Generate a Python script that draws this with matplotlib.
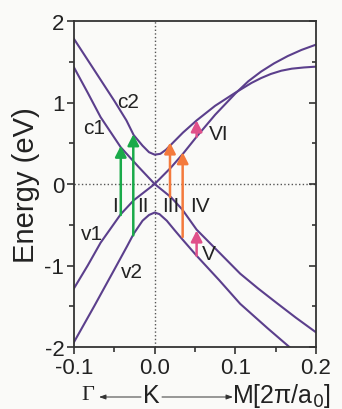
import matplotlib
matplotlib.use('Agg')
import matplotlib.pyplot as plt

plt.rcParams['font.family'] = ['Liberation Sans', 'DejaVu Sans']

# band data (k in 2pi/a0, E in eV)
k_c2 = [-0.100, -0.075, -0.050, -0.035, -0.026, -0.015, -0.007, 0.000, 0.007, 0.014,
        0.021, 0.035, 0.052, 0.075, 0.100, 0.110, 0.120, 0.132, 0.144, 0.157,
        0.170, 0.185, 0.200]
e_c2 = [1.78, 1.40, 1.02, 0.78, 0.60, 0.47, 0.39, 0.36, 0.37, 0.42,
        0.49, 0.63, 0.78, 0.96, 1.12, 1.18, 1.24, 1.30, 1.35, 1.39,
        1.415, 1.43, 1.44]

k_c1 = [-0.100, -0.083, -0.067, -0.042, -0.020, 0.000, 0.020, 0.035, 0.052,
        0.075, 0.100, 0.116, 0.132, 0.148, 0.165, 0.182, 0.200]
e_c1 = [1.43, 1.12, 0.82, 0.45, 0.21, 0.00, 0.20, 0.37, 0.58,
        0.85, 1.11, 1.26, 1.38, 1.48, 1.57, 1.645, 1.71]

k_v1 = [-0.100, -0.083, -0.067, -0.042, -0.026, -0.013, 0.000, 0.020, 0.034,
        0.052, 0.080, 0.106, 0.128, 0.150, 0.175, 0.200]
e_v1 = [-1.28, -1.00, -0.72, -0.37, -0.20, -0.10, 0.00, -0.16, -0.31,
        -0.56, -0.84, -1.10, -1.28, -1.45, -1.64, -1.82]

k_v2 = [-0.100, -0.075, -0.050, -0.034, -0.026, -0.015, -0.007, 0.000, 0.006,
        0.015, 0.025, 0.034, 0.052, 0.080, 0.106, 0.140, 0.167]
e_v2 = [-1.94, -1.50, -1.05, -0.76, -0.61, -0.45, -0.38, -0.35, -0.37,
        -0.45, -0.57, -0.675, -0.88, -1.18, -1.47, -1.77, -2.00]

# optical transitions: label, k, E start, E end, colour
trans_labels = ['I', 'II', 'III', 'IV', 'V', 'VI']
trans_k = [-0.042, -0.0265, 0.019, 0.0347, 0.052, 0.052]
trans_e0 = [-0.38, -0.63, -0.16, -0.65, -0.88, 0.58]
trans_e1 = [0.47, 0.61, 0.51, 0.39, -0.57, 0.78]
trans_col = ['#1aaa4a', '#1aaa4a', '#f47a3c', '#f47a3c', '#e0508a', '#e0508a']

band_col = '#5b3f8c'
bg = '#fafaf8'

fig = plt.figure(figsize=(3.42, 4.10), dpi=100, facecolor=bg)
ax = fig.add_axes([74/342, 1-348/410, 242/342, 326/410], facecolor=bg)

for k, e in [(k_c2, e_c2), (k_c1, e_c1), (k_v1, e_v1), (k_v2, e_v2)]:
    ax.plot(k, e, color=band_col, lw=1.5, solid_joinstyle='round')

ax.axhline(0, color='#555555', ls=':', lw=1.0, zorder=0)
ax.axvline(0, color='#555555', ls=':', lw=1.0, zorder=0)

for k, a, b, c in zip(trans_k, trans_e0, trans_e1, trans_col):
    ax.annotate('', xy=(k, b), xytext=(k, a),
                arrowprops=dict(arrowstyle='-|>,head_length=0.55,head_width=0.28',
                                color=c, lw=1.8, mutation_scale=12,
                                shrinkA=0, shrinkB=0))

# text labels (pixel positions)
def px(x, y, s, **kw):
    fig.text(x/342, 1-y/410, s, ha='center', va='center', color='#222222', **kw)

fs = 15
px(115, 207, 'I', fontsize=fs)
px(143, 207, 'II', fontsize=fs)
px(171, 207, 'III', fontsize=fs)
px(200, 207, 'IV', fontsize=fs)
px(209, 255, 'V', fontsize=fs)
px(219, 135, 'VI', fontsize=fs)
px(94, 128, 'c1', fontsize=fs)
px(128, 103, 'c2', fontsize=fs)
px(92, 235, 'v1', fontsize=fs)
px(132, 273, 'v2', fontsize=fs)

ax.set_xlim(-0.1, 0.2)
ax.set_ylim(-2, 2)
ax.set_xticks([-0.1, 0.0, 0.1, 0.2])
ax.set_xticklabels(['-0.1', '0.0', '0.1', '0.2'])
ax.set_xticks([-0.05, 0.05, 0.15], minor=True)
ax.set_yticks([-2, -1, 0, 1, 2])
ax.set_yticklabels(['-2', '-1', '0', '1', '2'])
ax.set_yticks([-1.5, -0.5, 0.5, 1.5], minor=True)

for s in ax.spines.values():
    s.set_color('#333333')
    s.set_linewidth(1.3)
ax.tick_params(which='both', colors='#333333', labelcolor='#222222', width=1.2)
ax.tick_params(axis='both', which='major', direction='out', length=5, labelsize=16, pad=2)
ax.tick_params(axis='both', which='minor', direction='out', length=3.5)

# right spine ticks point inward
ax2 = ax.twinx()
ax2.set_ylim(-2, 2)
ax2.set_yticks([-2, -1, 0, 1, 2])
ax2.set_yticks([-1.5, -0.5, 0.5, 1.5], minor=True)
ax2.tick_params(which='both', direction='in', colors='#333333', labelright=False, width=1.2)
ax2.tick_params(which='major', length=5)
ax2.tick_params(which='minor', length=3)
for s in ax2.spines.values():
    s.set_visible(False)
ax.tick_params(axis='y', which='both', right=False)

ax.set_ylabel('Energy (eV)', fontsize=21, color='#222222', labelpad=3)

# k-path label below the axis
fig.text(88/342, 1-396/410, '\u0393', fontsize=16, family='Liberation Serif',
         ha='center', va='center', color='#222222')
fig.text(151/342, 1-396/410, 'K', fontsize=18, ha='center', va='center', color='#222222')
fig.text(232/342, 1-396/410, 'M[2\u03c0/a$_0$]', fontsize=18, ha='left', va='center',
         color='#222222')
ax.annotate('', xy=(99, 12), xytext=(141, 12), xycoords='figure pixels',
            arrowprops=dict(arrowstyle='-|>,head_length=0.5,head_width=0.18',
                            color='#333333', lw=0.7, mutation_scale=8, shrinkA=0, shrinkB=0))
ax.annotate('', xy=(233, 12), xytext=(162, 12), xycoords='figure pixels',
            arrowprops=dict(arrowstyle='-|>,head_length=0.5,head_width=0.18',
                            color='#333333', lw=0.7, mutation_scale=8, shrinkA=0, shrinkB=0))

fig.savefig('out.png', dpi=100, facecolor=bg)
